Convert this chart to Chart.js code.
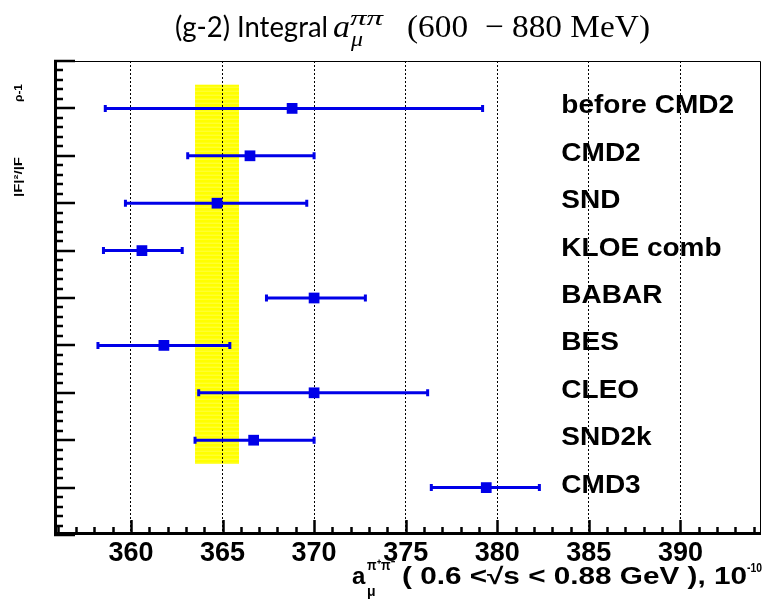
<!DOCTYPE html>
<html>
<head>
<meta charset="utf-8">
<script src="https://cdn.jsdelivr.net/npm/chart.js@4.4.0/dist/chart.umd.min.js"></script>
<style>
  html, body { margin: 0; padding: 0; background: #fff; }
</style>
</head>
<body>
<canvas id="myChart" width="763" height="603"></canvas>
<script>
// measurements, one row each (row 1 at the top)
var experiments = ["before CMD2", "CMD2", "SND", "KLOE comb", "BABAR", "BES", "CLEO", "SND2k", "CMD3"];
var rows = [1, 2, 3, 4, 5, 6, 7, 8, 9];
var centers = [368.8, 366.5, 364.7, 360.6, 370.0, 361.8, 370.0, 366.7, 379.4];
var lowEnds = [358.6, 363.1, 359.7, 358.5, 367.4, 358.2, 363.7, 363.5, 376.4];
var highEnds = [379.2, 370.0, 369.6, 362.8, 372.8, 365.4, 376.2, 370.0, 382.3];

// average band
var bandX = [363.5, 365.9];
var bandY = [0.5, 8.5];

var xRange = [355.8, 394.4];
var yRange = [0, 10];
var labelX = 383.5;

var blue = "#0000e8";

function fitText(ctx, text, x, y, width) {
  var w = ctx.measureText(text).width;
  ctx.save();
  ctx.translate(x, y);
  ctx.scale(width / w, 1);
  ctx.fillText(text, 0, 0);
  ctx.restore();
}

var rootStyle = {
  id: "rootStyle",
  beforeDraw: function (chart) {
    var ctx = chart.ctx, xs = chart.scales.x, ys = chart.scales.y;
    var x0 = xs.getPixelForValue(bandX[0]), x1 = xs.getPixelForValue(bandX[1]);
    var y0 = ys.getPixelForValue(bandY[0]), y1 = ys.getPixelForValue(bandY[1]);
    ctx.save();
    ctx.fillStyle = "#ffff00";
    ctx.fillRect(x0, y0, x1 - x0, y1 - y0);
    ctx.fillStyle = "rgba(255,255,255,0.28)";
    for (var y = y0 + 2; y < y1; y += 4) ctx.fillRect(x0, y, x1 - x0, 1);
    ctx.restore();
  },
  beforeDatasetsDraw: function (chart) {
    var ctx = chart.ctx, xs = chart.scales.x, ys = chart.scales.y;
    ctx.save();
    ctx.strokeStyle = blue;
    ctx.lineWidth = 3;
    for (var i = 0; i < rows.length; i++) {
      var y = ys.getPixelForValue(rows[i]);
      var a = xs.getPixelForValue(lowEnds[i]), b = xs.getPixelForValue(highEnds[i]);
      ctx.beginPath();
      ctx.moveTo(a, y); ctx.lineTo(b, y);
      ctx.moveTo(a, y - 3.5); ctx.lineTo(a, y + 3.5);
      ctx.moveTo(b, y - 3.5); ctx.lineTo(b, y + 3.5);
      ctx.stroke();
    }
    ctx.restore();
  },
  afterDraw: function (chart) {
    var ctx = chart.ctx, xs = chart.scales.x, ys = chart.scales.y;
    var area = chart.chartArea;
    ctx.save();

    // frame
    ctx.strokeStyle = "#000";
    ctx.lineWidth = 1;
    ctx.beginPath();
    ctx.moveTo(area.left, area.top + 0.5); ctx.lineTo(area.right - 0.5, area.top + 0.5);
    ctx.lineTo(area.right - 0.5, area.bottom);
    ctx.stroke();
    ctx.lineWidth = 3;
    ctx.beginPath();
    ctx.moveTo(area.left + 1.5, area.top); ctx.lineTo(area.left + 1.5, area.bottom);
    ctx.moveTo(area.left, area.bottom - 1.5); ctx.lineTo(area.right, area.bottom - 1.5);
    ctx.stroke();

    // inner ticks
    ctx.lineWidth = 2.5;
    ctx.beginPath();
    for (var v = Math.ceil(xRange[0]); v <= Math.floor(xRange[1]); v++) {
      var px = Math.round(xs.getPixelForValue(v)) + 0.5;
      var len = v % 5 === 0 ? 15 : 8;
      ctx.moveTo(px, area.bottom); ctx.lineTo(px, area.bottom - len);
    }
    for (var k = 0; k <= 50; k++) {
      var yv = k / 5;
      var py = Math.round(ys.getPixelForValue(yv));
      var l2 = k % 5 === 0 ? 21 : 9;
      ctx.moveTo(area.left, py); ctx.lineTo(area.left + l2, py);
    }
    ctx.stroke();

    // experiment names
    ctx.fillStyle = "#000";
    ctx.font = "bold 25px 'Liberation Sans', Arial, sans-serif";
    ctx.textAlign = "left";
    ctx.textBaseline = "alphabetic";
    for (var i = 0; i < experiments.length; i++) {
      var ty = ys.getPixelForValue(rows[i]) + 5;
      var tx = xs.getPixelForValue(labelX);
      ctx.save();
      ctx.translate(tx, ty);
      ctx.scale(1.12, 1);
      ctx.fillText(experiments[i], 0, 0);
      ctx.restore();
    }

    // x axis title
    ctx.font = "bold 24px 'Liberation Sans', Arial, sans-serif";
    ctx.fillText("a", 352, 584);
    ctx.font = "bold 14px 'Liberation Sans', Arial, sans-serif";
    fitText(ctx, "π⁺π⁻", 367, 570, 28);
    ctx.fillText("μ", 367, 596);
    ctx.font = "bold 23px 'Liberation Sans', Arial, sans-serif";
    fitText(ctx, "( 0.6 <√s < 0.88 GeV ), 10", 402, 584, 345);
    ctx.font = "bold 13px 'Liberation Sans', Arial, sans-serif";
    fitText(ctx, "-10", 747, 572, 15);

    // y axis title (rotated)
    ctx.save();
    ctx.translate(22, 157);
    ctx.rotate(-Math.PI / 2);
    ctx.font = "bold 11px 'Liberation Sans', Arial, sans-serif";
    ctx.textAlign = "center";
    fitText(ctx, "|F|²/|F", -20, 0, 40);
    fitText(ctx, "ρ-1", 64, 0, 18);
    ctx.restore();

    // chart title
    ctx.textAlign = "left";
    ctx.font = "29px Lato, 'Open Sans', sans-serif";
    fitText(ctx, "(g-2) Integral", 175, 37, 153);
    ctx.font = "italic 32px 'Liberation Serif', 'DejaVu Serif', serif";
    fitText(ctx, "a", 333, 37, 17);
    ctx.font = "italic 21px 'Liberation Serif', 'DejaVu Serif', serif";
    fitText(ctx, "ππ", 350, 25, 33);
    fitText(ctx, "μ", 351, 46, 12);
    ctx.font = "32px 'Liberation Serif', 'DejaVu Serif', serif";
    fitText(ctx, "(600  − 880 MeV)", 407, 37, 243);

    ctx.restore();
  }
};

var points = rows.map(function (r, i) { return { x: centers[i], y: r }; });

new Chart("myChart", {
  type: "scatter",
  data: {
    datasets: [{
      data: points,
      pointStyle: "rect",
      pointRadius: 7.6,
      pointBorderWidth: 0,
      backgroundColor: blue,
      borderColor: blue
    }]
  },
  options: {
    responsive: false,
    animation: false,
    layout: { autoPadding: false, padding: { top: 61, left: 54, right: 2, bottom: 0 } },
    plugins: {
      legend: { display: false },
      tooltip: { enabled: false },
      title: { display: false }
    },
    scales: {
      x: {
        type: "linear",
        min: xRange[0],
        max: xRange[1],
        afterFit: function (scale) {
          scale.height = 68;
          scale.paddingLeft = 0;
          scale.paddingRight = 0;
        },
        grid: { color: "#000", lineWidth: 1, drawTicks: false },
        border: { display: false, dash: [2, 2] },
        ticks: {
          stepSize: 5,
          includeBounds: false,
          color: "#000",
          padding: 2,
          maxRotation: 0,
          font: { family: "'Liberation Sans', Arial, sans-serif", weight: "bold", size: 27 }
        }
      },
      y: {
        type: "linear",
        min: yRange[0],
        max: yRange[1],
        reverse: true,
        display: false
      }
    }
  },
  plugins: [rootStyle]
});
</script>
</body>
</html>
